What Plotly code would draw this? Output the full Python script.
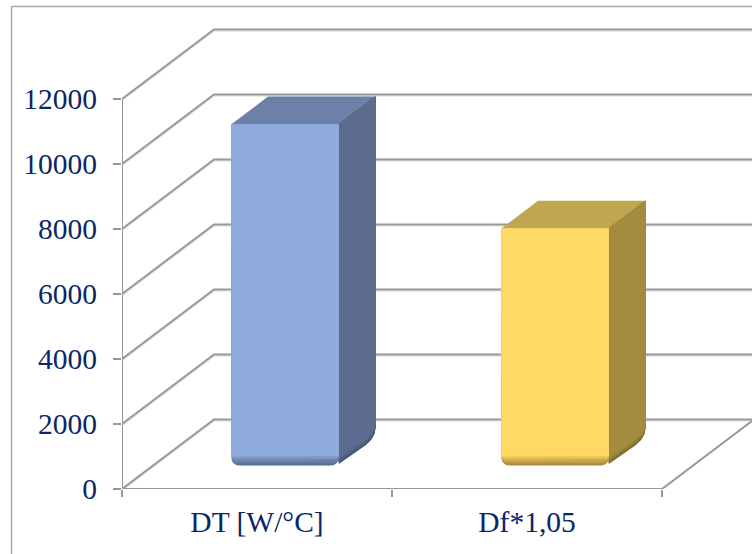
import math
import plotly.graph_objects as go

# Chart data
categories = ["DT [W/°C]", "Df*1,05"]
values = [10570, 7365]
value_ticks = [0, 2000, 4000, 6000, 8000, 10000, 12000]

# Colours per bar: front, top, side, and the darker tone of the bottom bevel
front_colors = ["#8faadc", "#ffd966"]
top_colors = ["#6d80a8", "#bfa650"]
side_colors = ["#5d6c8e", "#a38c40"]
bevel_colors = ["#56698f", "#a8873a"]
side_bevel_colors = ["#46536f", "#7d6a2c"]
GRID = "#989898"
TEXT = "#0b2766"
FONT = "Liberation Serif"
FONT_SIZE = 29.5

# Pixel scale of the plotting area
PX_PER_CATEGORY = 270
PX_PER_VALUE = 0.0325
LEFT, BOTTOM = 122, 65
WIDTH, HEIGHT = 752, 554

# Oblique projection: how far the full chart depth shifts a point, in data units
DEPTH_X = 92 / PX_PER_CATEGORY
DEPTH_Y = 69.5 / PX_PER_VALUE
BAR_WIDTH = 0.398
BAR_DEPTH_FRONT = 0.305
BAR_DEPTH_BACK = 0.704
BAR_LIFT = 70
RADIUS_PX = 8
BEVEL_PX = 10
BEVEL_STEPS = 10


def project(x, y, depth):
    return x + depth * DEPTH_X, y + depth * DEPTH_Y


def blend(a, b, t):
    ca = [int(a[i:i + 2], 16) for i in (1, 3, 5)]
    cb = [int(b[i:i + 2], 16) for i in (1, 3, 5)]
    return "#" + "".join(f"{round(p + (q - p) * t):02x}" for p, q in zip(ca, cb))


def polygon(xs, ys, color):
    return go.Scatter(x=xs, y=ys, mode="lines", fill="toself", fillcolor=color,
                      line=dict(width=0), hoverinfo="skip",
                      cliponaxis=True, showlegend=False)


def polyline(xs, ys, width=2, color=GRID):
    return go.Scatter(x=xs, y=ys, mode="lines", line=dict(width=width, color=color),
                      hoverinfo="skip", cliponaxis=False, showlegend=False)


def rounded_front(x0, x1, top, base, raise_px, radius_px):
    """Front face outline with rounded lower corners, lower edge raised by raise_px."""
    rx = radius_px / PX_PER_CATEGORY
    ry = radius_px / PX_PER_VALUE
    low = base + raise_px / PX_PER_VALUE
    xs, ys = [x0], [top]
    for k in range(9):
        a = math.pi / 2 * k / 8
        xs.append(x0 + rx * (1 - math.cos(a)))
        ys.append(low + ry * (1 - math.sin(a)))
    for k in range(9):
        a = math.pi / 2 * k / 8
        xs.append(x1 - rx * (1 - math.sin(a)))
        ys.append(low + ry * (1 - math.cos(a)))
    xs += [x1, x0]
    ys += [top, top]
    return xs, ys


def rounded_side(x1, top, base, raise_px):
    """Side face outline; the lower back corner is a quadratic curve into the diagonal edge."""
    low = base + raise_px / PX_PER_VALUE
    fx, fy_top = project(x1, top, BAR_DEPTH_FRONT)
    bx, by_top = project(x1, top, BAR_DEPTH_BACK)
    _, fy_low = project(x1, low, BAR_DEPTH_FRONT)
    _, by_low = project(x1, low, BAR_DEPTH_BACK)
    start = (bx, by_low + 1.2 * RADIUS_PX / PX_PER_VALUE)
    corner = (bx, by_low)
    frac = 0.3
    end = (bx + (fx - bx) * frac, by_low + (fy_low - by_low) * frac)
    xs = [fx, bx]
    ys = [fy_top, by_top]
    for k in range(13):
        t = k / 12
        xs.append((1 - t) ** 2 * start[0] + 2 * t * (1 - t) * corner[0] + t * t * end[0])
        ys.append((1 - t) ** 2 * start[1] + 2 * t * (1 - t) * corner[1] + t * t * end[1])
    # The diagonal stops just short of the front face's rounded corner
    xs += [fx, fx]
    ys += [fy_low + 1.5 / PX_PER_VALUE, fy_top]
    return xs, ys


fig = go.Figure()

# Walls and floor: each gridline runs along the side wall, then along the back wall
last_x = len(categories)
shadow = "#e6e6e6"
for v in value_ticks:
    bx, by = project(0, v, 1)
    fig.add_trace(polyline([0, bx, last_x + DEPTH_X],
                           [v - 1.6 / PX_PER_VALUE, by - 1.6 / PX_PER_VALUE, by - 1.6 / PX_PER_VALUE],
                           width=1.5, color=shadow))
    fig.add_trace(polyline([0, bx, last_x + DEPTH_X], [v, by, by]))
fig.add_trace(polyline([last_x, last_x + DEPTH_X], [0, DEPTH_Y]))
fig.add_trace(polyline([0, last_x], [-1.6 / PX_PER_VALUE] * 2, width=1.5, color=shadow))
fig.add_trace(polyline([0, last_x], [0, 0]))
fig.add_trace(polyline([0, 0], [0, value_ticks[-1]]))

# Bars drawn as projected boxes, with the bevel built up from nested outlines
for i, value in enumerate(values):
    x0 = i + 0.5 - BAR_WIDTH / 2
    x1 = i + 0.5 + BAR_WIDTH / 2

    # Top face
    corners = [project(x0, value, BAR_DEPTH_FRONT), project(x1, value, BAR_DEPTH_FRONT),
               project(x1, value, BAR_DEPTH_BACK), project(x0, value, BAR_DEPTH_BACK)]
    fig.add_trace(polygon([c[0] for c in corners] + [corners[0][0]],
                          [c[1] for c in corners] + [corners[0][1]], top_colors[i]))

    # Side face
    for s in range(BEVEL_STEPS):
        t = s / (BEVEL_STEPS - 1)
        xs, ys = rounded_side(x1, value, BAR_LIFT, t * BEVEL_PX * 0.6)
        fig.add_trace(polygon(xs, ys, blend(side_bevel_colors[i], side_colors[i], t)))

    # Front face: upper layers lose their corner radius so the bevel stays at the bottom edge
    fx0, _ = project(x0, 0, BAR_DEPTH_FRONT)
    fx1, ftop = project(x1, value, BAR_DEPTH_FRONT)
    _, fbase = project(x0, BAR_LIFT, BAR_DEPTH_FRONT)
    for s in range(BEVEL_STEPS):
        t = s / (BEVEL_STEPS - 1)
        xs, ys = rounded_front(fx0, fx1, ftop, fbase, t * BEVEL_PX, RADIUS_PX * (1 - t))
        fig.add_trace(polygon(xs, ys, blend(bevel_colors[i], front_colors[i], t)))

fig.update_layout(
    width=WIDTH, height=HEIGHT, autosize=False,
    margin=dict(l=LEFT, r=0, t=0, b=BOTTOM, pad=0),
    paper_bgcolor="white", plot_bgcolor="white",
    showlegend=False,
    font=dict(family=FONT, size=FONT_SIZE, color=TEXT),
    xaxis=dict(
        range=[0, (WIDTH - LEFT) / PX_PER_CATEGORY],
        tickmode="array",
        tickvals=[k + 0.5 for k in range(len(categories))],
        ticktext=categories,
        ticks="", showgrid=False, zeroline=False, showline=False,
        ticklabelstandoff=12,
        minor=dict(tickmode="array", tickvals=list(range(len(categories) + 1)),
                   ticks="outside", ticklen=7, tickwidth=1.5, tickcolor=GRID, showgrid=False),
        tickfont=dict(family=FONT, size=FONT_SIZE, color=TEXT),
    ),
    yaxis=dict(
        range=[0, (HEIGHT - BOTTOM) / PX_PER_VALUE],
        tickmode="array", tickvals=value_ticks, ticktext=[str(v) for v in value_ticks],
        ticks="outside", ticklen=8, tickwidth=2, tickcolor=GRID,
        showgrid=False, zeroline=False, showline=False,
        ticklabelstandoff=10,
        tickfont=dict(family=FONT, size=FONT_SIZE, color=TEXT),
    ),
    shapes=[
        # Outer frame of the chart object, running off the page on the right and bottom
        dict(type="line", xref="paper", yref="paper",
             x0=(11.5 - LEFT) / (WIDTH - LEFT), x1=(11.5 - LEFT) / (WIDTH - LEFT),
             y0=-BOTTOM / (HEIGHT - BOTTOM), y1=(HEIGHT - BOTTOM - 6.5) / (HEIGHT - BOTTOM),
             line=dict(color="#a6a6a6", width=1.5)),
        dict(type="line", xref="paper", yref="paper",
             x0=(11.5 - LEFT) / (WIDTH - LEFT), x1=1,
             y0=(HEIGHT - BOTTOM - 6.5) / (HEIGHT - BOTTOM), y1=(HEIGHT - BOTTOM - 6.5) / (HEIGHT - BOTTOM),
             line=dict(color="#a6a6a6", width=1.5)),
    ],
)

fig.write_html("out.html", config=dict(displayModeBar=False))
